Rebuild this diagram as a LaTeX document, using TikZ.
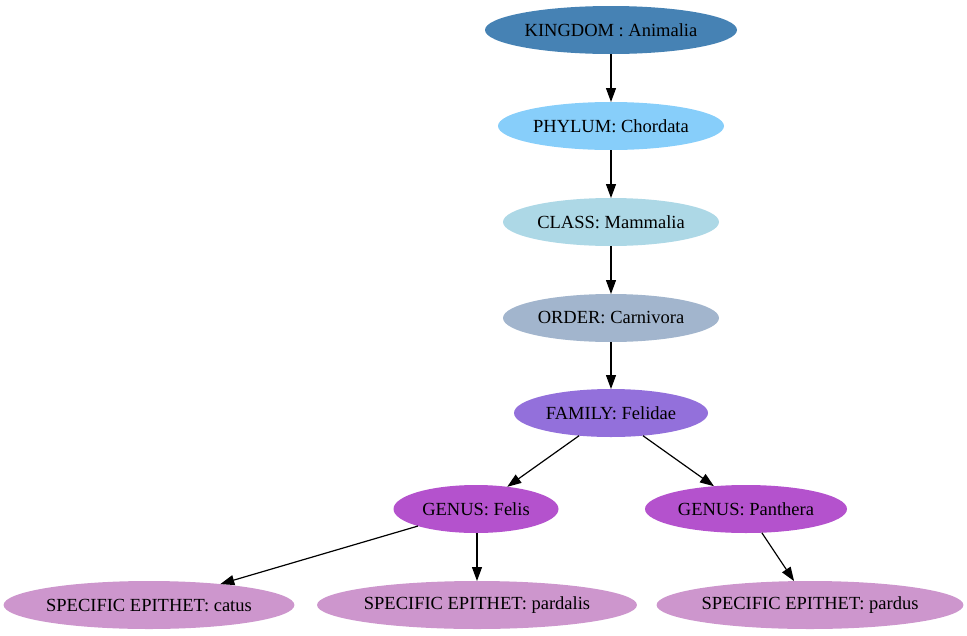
\documentclass[tikz,border=0pt]{standalone}
\usepackage{fontspec}
\setmainfont{Liberation Serif}
\usetikzlibrary{shapes.geometric,arrows.meta}

\definecolor{kingdomblue}{HTML}{4682B4}
\definecolor{phylumblue}{HTML}{87CEFA}
\definecolor{classblue}{HTML}{ADD8E6}
\definecolor{orderblue}{HTML}{A2B5CD}
\definecolor{familypurple}{HTML}{9370DB}
\definecolor{genusorchid}{HTML}{B452CD}
\definecolor{speciesplum}{HTML}{CD96CD}

\begin{document}
\begin{tikzpicture}[
		x=1pt, y=-1pt,
		font=\fontsize{18.5}{22}\selectfont,
		% Styling for every rank in the tree
		rank/.style={ellipse, draw=none, inner sep=0pt, outer sep=0pt, minimum height=48pt},
		% Connectors between ranks
		link/.style={-{Triangle[length=14pt,width=10pt]}, line width=1.2pt}
		]
		
		\useasboundingbox (0,0) rectangle (967,635);
		
		% =========================================================================
		% MAIN CHAIN: Kingdom down to Family
		% =========================================================================
		\node[rank, fill=kingdomblue, minimum width=252pt] (kingdom) at (611, 30) {KINGDOM : Animalia};
		\node[rank, fill=phylumblue, minimum width=226pt] (phylum) at (611, 126) {PHYLUM: Chordata};
		\node[rank, fill=classblue, minimum width=216pt] (class) at (611, 222) {CLASS: Mammalia};
		\node[rank, fill=orderblue, minimum width=216pt] (order) at (611, 318) {ORDER: Carnivora};
		\node[rank, fill=familypurple, minimum width=194pt] (family) at (611, 413) {FAMILY: Felidae};
		
		% =========================================================================
		% GENERA
		% =========================================================================
		\node[rank, fill=genusorchid, minimum width=165pt] (felis) at (476, 509) {GENUS: Felis};
		\node[rank, fill=genusorchid, minimum width=202pt] (panthera) at (746, 509) {GENUS: Panthera};
		
		% =========================================================================
		% SPECIES
		% =========================================================================
		\node[rank, fill=speciesplum, minimum width=290pt] (catus) at (149, 605) {SPECIFIC EPITHET: catus};
		\node[rank, fill=speciesplum, minimum width=318pt] (pardalis) at (477, 605) {SPECIFIC EPITHET: pardalis};
		\node[rank, fill=speciesplum, minimum width=305pt] (pardus) at (810, 605) {SPECIFIC EPITHET: pardus};
		
		% =========================================================================
		% LINKS
		% =========================================================================
		\draw[link] (kingdom) -- (phylum);
		\draw[link] (phylum) -- (class);
		\draw[link] (class) -- (order);
		\draw[link] (order) -- (family);
		\draw[link] (family) -- (felis);
		\draw[link] (family) -- (panthera);
		\draw[link] (felis) -- (catus);
		\draw[link] (felis.south -| pardalis.north) -- (pardalis);
		\draw[link] (panthera) -- (pardus);
		
	\end{tikzpicture}
\end{document}
